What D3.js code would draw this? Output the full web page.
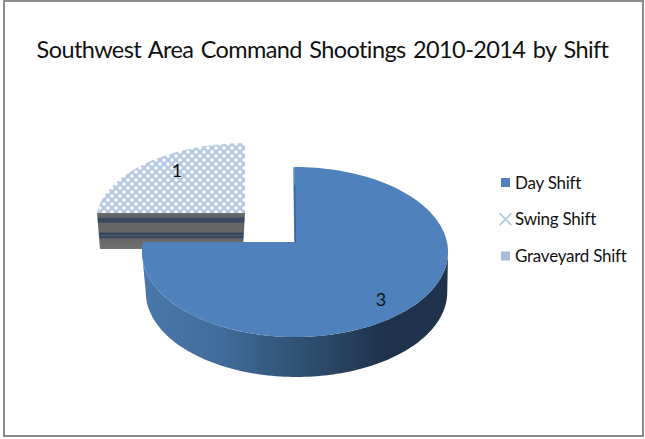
<!DOCTYPE html>
<html>
<head>
<meta charset="utf-8">
<script src="https://cdnjs.cloudflare.com/ajax/libs/d3/7.8.5/d3.min.js"></script>
<style>
  html, body { margin: 0; padding: 0; background: #fff; }
  text { font-family: Lato, "Open Sans", sans-serif; fill: #111; }
</style>
</head>
<body>
<div id="plot"></div>
<script>
const categories = ["Day Shift", "Swing Shift", "Graveyard Shift"];
const values = [3, 1, 0];
const titleText = "Southwest Area Command Shootings 2010-2014 by Shift";

const width = 645, height = 439;
const depth = 40, tilt = 83.8, persp = 0.1176;

const svg = d3.select("#plot").append("svg")
    .attr("width", width)
    .attr("height", height)
    .style("display", "block");

const defs = svg.append("defs");

// crosshatch used for Swing Shift
const hatch = defs.append("pattern")
    .attr("id", "hatch")
    .attr("width", 8).attr("height", 8)
    .attr("patternUnits", "userSpaceOnUse");
hatch.append("rect").attr("width", 8).attr("height", 8).attr("fill", "#fff");
hatch.append("path")
    .attr("d", "M-1,-1L9,9M9,-1L-1,9")
    .attr("stroke", "#b5c9e2").attr("stroke-width", 2.5);

const sideGrad = defs.append("linearGradient")
    .attr("id", "sideGrad")
    .attr("gradientUnits", "userSpaceOnUse")
    .attr("x1", 143).attr("x2", 448).attr("y1", 0).attr("y2", 0);
[[0, "#4a78ab"], [0.25, "#416c9c"], [0.6, "#2b4865"], [0.8, "#1e324b"], [1, "#1e324b"]]
  .forEach(d => sideGrad.append("stop").attr("offset", d[0]).attr("stop-color", d[1]));

const stripeGrad = defs.append("linearGradient")
    .attr("id", "stripeGrad")
    .attr("x1", 0).attr("x2", 0).attr("y1", 0).attr("y2", 1);
[[0, "#6d6d6d"], [0.12, "#5d6068"], [0.15, "#3a4860"], [0.25, "#3a4860"], [0.29, "#666"],
 [0.53, "#666"], [0.55, "#3c4c66"], [0.6, "#34425a"], [0.62, "#5c6470"], [0.65, "#34425a"],
 [0.69, "#3c4c66"], [0.72, "#666"], [1, "#707070"]]
  .forEach(d => stripeGrad.append("stop").attr("offset", d[0]).attr("stop-color", d[1]));

// frame
svg.append("rect")
    .attr("x", 4).attr("y", 1)
    .attr("width", 639).attr("height", 435)
    .attr("fill", "#fff").attr("stroke", "#8c8c8c").attr("stroke-width", 2);

svg.append("text")
    .attr("x", 322.5).attr("y", 58)
    .attr("text-anchor", "middle")
    .attr("font-size", 23.5)
    .attr("letter-spacing", -0.6)
    .attr("word-spacing", 2)
    .text(titleText);

// pie angles start at 12 o'clock and run clockwise
const slices = d3.pie().sort(null).value(d => d)(values);

// perspective projection of a point on the pie disc
function project(cx, cy, rx, k, a, z) {
  const c = Math.sin(a), s = -Math.cos(a);
  const w = 1 - persp * s;
  return [cx + rx * c / w, cy + k * tilt * s / w + (z || 0)];
}
const line = d3.line();

function arcPoints(cx, cy, rx, k, a0, a1, z) {
  return d3.range(0, 121).map(i => project(cx, cy, rx, k, a0 + (a1 - a0) * i / 120, z));
}

function topPath(cx, cy, rx, k, a0, a1) {
  return line([[cx, cy], ...arcPoints(cx, cy, rx, k, a0, a1)]) + "Z";
}

// swing shift wedge is pulled out to the upper left
const swing = { cx: 245, cy: 213, rx: 148, k: 0.93, depth: 36 };
const sw = slices[1];

svg.append("path")
    .attr("d", line([[swing.cx, swing.cy], [swing.cx - swing.rx, swing.cy],
                     [swing.cx - swing.rx + 3, swing.cy + swing.depth], [swing.cx - 2, swing.cy + swing.depth]]) + "Z")
    .attr("fill", "url(#stripeGrad)");

svg.append("path")
    .attr("d", topPath(swing.cx, swing.cy, swing.rx, swing.k, sw.startAngle, sw.endAngle))
    .attr("fill", "url(#hatch)");

// day shift wedge, side wall first; wall runs between the two widest points of the ellipse
const cx = 295, cy = 242, rx = 152;
const day = slices[0];
const a0 = Math.PI / 2 + persp, a1 = Math.PI * 1.5 - persp;
const sideTop = arcPoints(cx, cy, rx, 1, a0, a1);
const sideBottom = arcPoints(cx + 1.5, cy, rx * 0.985, 1, a0, a1, depth).reverse();
svg.append("path")
    .attr("d", line([...sideTop, ...sideBottom]) + "Z")
    .attr("fill", "url(#sideGrad)");

svg.append("path")
    .attr("d", topPath(cx, cy, rx, 1, day.startAngle, day.endAngle))
    .attr("fill", "#4f81bd");

// the cut edge leans a little to the left towards the top
svg.append("line")
    .attr("x1", cx - 1).attr("y1", cy - 75)
    .attr("x2", cx).attr("y2", cy)
    .attr("stroke", "#4f81bd").attr("stroke-width", 1.5);
svg.append("line")
    .attr("x1", cx - 0.3).attr("y1", cy - 57)
    .attr("x2", cx + 0.3).attr("y2", cy)
    .attr("stroke", "#2c4a6e").attr("stroke-width", 1).attr("opacity", 0.7);

// value labels
svg.append("text").attr("x", 381).attr("y", 306).attr("text-anchor", "middle")
    .attr("font-size", 18).text(values[0]);
svg.append("text").attr("x", 177).attr("y", 177).attr("text-anchor", "middle")
    .attr("font-size", 18).text(values[1]);

// legend
const legendY = d3.scalePoint().domain(categories).range([182.5, 256]);
const legendFill = { "Day Shift": "#4f81bd", "Graveyard Shift": "#aabbd9" };

const legend = svg.append("g").selectAll("g")
    .data(categories)
    .join("g")
    .attr("transform", d => `translate(0,${legendY(d)})`);
legend.filter(d => d !== "Swing Shift").append("rect")
    .attr("x", 501).attr("y", -4.5)
    .attr("width", 9).attr("height", 9)
    .attr("fill", d => legendFill[d]);
legend.filter(d => d === "Swing Shift").append("path")
    .attr("transform", "translate(505.5,0)")
    .attr("d", d3.symbol(d3.symbolTimes, 90))
    .attr("fill", "none")
    .attr("stroke", "#b5c9e2")
    .attr("stroke-width", 1.8);
legend.append("text")
    .attr("x", 515).attr("y", 6)
    .attr("font-size", 17)
    .attr("letter-spacing", -0.25)
    .text(d => d);
</script>
</body>
</html>
